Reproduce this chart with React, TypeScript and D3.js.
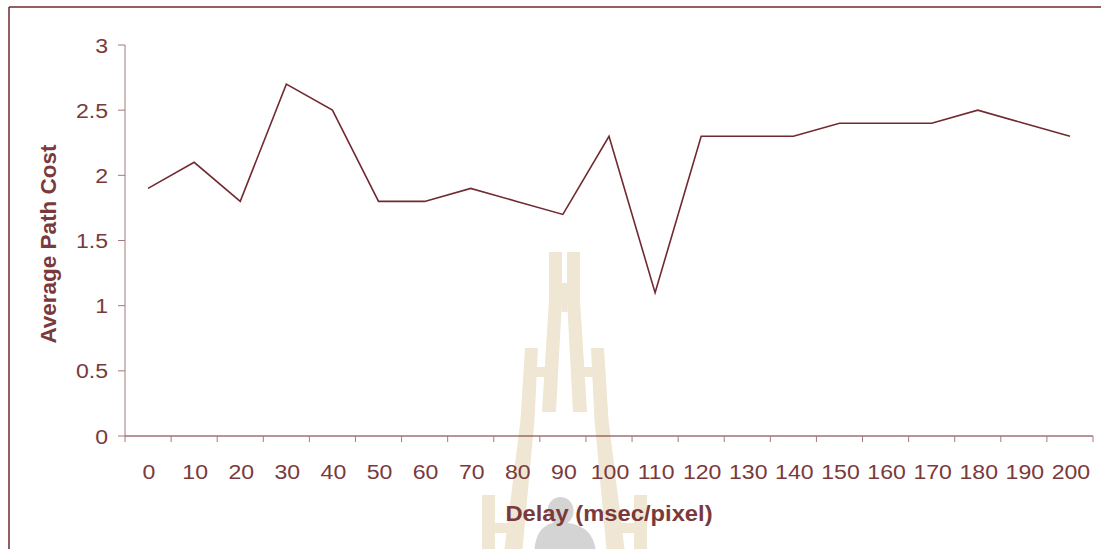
import React from "react";
import * as d3 from "d3";

const categories: string[] = ["0","10","20","30","40","50","60","70","80","90","100","110","120","130","140","150","160","170","180","190","200"];
const avgPathCost: number[] = [1.9,2.1,1.8,2.7,2.5,1.8,1.8,1.9,1.8,1.7,2.3,1.1,2.3,2.3,2.3,2.4,2.4,2.4,2.5,2.4,2.3];
const yTicks: number[] = [0,0.5,1,1.5,2,2.5,3];
const yTickLabels: string[] = ["0","0.5","1","1.5","2","2.5","3"];
const xTitle = "Delay (msec/pixel)";
const yTitle = "Average Path Cost";

const W = 1101, H = 549;
const M = { left: 125, right: 1093, top: 45, bottom: 436 };
const TEXT = "#7a3a3c";
const LINE = "#702a30";
const AXIS = "#a27a7c";
const BEIGE = "#efe6d4";
const FONT = "'Liberation Sans', Arial, sans-serif";

function Watermark() {
  const cx = 564.5;
  const poly = (pts: [number, number][]) => pts.map(([x, y]) => `${cx + x},${y}`).join(" ");
  const mirror = (pts: [number, number][]) => pts.map(([x, y]) => [-x, y] as [number, number]);
  const centralBar: [number, number][] = [[-15.5, 252], [-2.5, 252], [-2.5, 300], [-8.5, 412], [-22.5, 412], [-15.5, 300]];
  const sideBar: [number, number][] = [[-39.5, 348], [-26.5, 348], [-30, 420], [-42, 549], [-60, 549], [-44, 420]];
  const cross: [number, number][] = [[-28, 367], [-16, 367], [-16, 377], [-28.5, 377]];
  const outer: [number, number][] = [[-82.5, 495], [-69.5, 495], [-69.5, 549], [-82.5, 549]];
  const outerCross: [number, number][] = [[-70, 523], [-47, 523], [-48, 533], [-70, 533]];
  const junction: [number, number][] = [[-3, 283], [3, 283], [3, 312], [-3, 312]];
  const shapes = [centralBar, sideBar, cross, outer, outerCross];
  return (
    <g>
      {shapes.map((s, i) => (
        <g key={i}>
          <polygon points={poly(s)} fill={BEIGE} />
          <polygon points={poly(mirror(s))} fill={BEIGE} />
        </g>
      ))}
      <polygon points={poly(junction)} fill={BEIGE} />
      <ellipse cx={cx - 4} cy={511} rx={13} ry={14} fill="#d4d4d4" />
      <path d={`M${cx - 30},549 Q${cx - 28},527 ${cx - 12},523 L${cx + 4},523 Q${cx + 28},527 ${cx + 31},549 Z`} fill="#d4d4d4" />
    </g>
  );
}

export default function App() {
  const x = d3.scaleBand<string>().domain(categories).range([M.left, M.right]);
  const y = d3.scaleLinear().domain([0, 3]).range([M.bottom, M.top]);
  const line = d3.line<number>()
    .x((_, i) => (x(categories[i]) as number) + x.bandwidth() / 2)
    .y((d) => y(d));
  const boundaries = categories.map((c) => x(c) as number).concat([M.right]);

  return (
    <svg width={W} height={H} style={{ position: "absolute", left: 0, top: 0, background: "#fff" }} fontFamily={FONT}>
      <rect x={0} y={0} width={W} height={H} fill="#fff" />
      <Watermark />
      {/* frame */}
      <line x1={9} y1={7} x2={W} y2={7} stroke={LINE} strokeWidth={1.5} />
      <line x1={9} y1={7} x2={9} y2={H} stroke={LINE} strokeWidth={1.5} />
      {/* y axis */}
      <line x1={M.left} y1={M.top} x2={M.left} y2={M.bottom} stroke={AXIS} strokeWidth={1} />
      {yTicks.map((t, i) => (
        <g key={t}>
          <line x1={M.left - 7} x2={M.left} y1={y(t)} y2={y(t)} stroke={AXIS} strokeWidth={1} />
          <g transform={`translate(${M.left - 17},${y(t) + 7.5}) scale(1.1,1)`}>
            <text textAnchor="end" fontSize={21} fill={TEXT}>{yTickLabels[i]}</text>
          </g>
        </g>
      ))}
      {/* x axis */}
      <line x1={M.left} y1={M.bottom} x2={M.right} y2={M.bottom} stroke={LINE} strokeWidth={1.2} />
      {boundaries.map((b, i) => (
        <line key={i} x1={b} x2={b} y1={M.bottom} y2={M.bottom + 6} stroke={AXIS} strokeWidth={1} />
      ))}
      {categories.map((c) => (
        <g key={c} transform={`translate(${(x(c) as number) + x.bandwidth() / 2 + 1},${479}) scale(1.1,1)`}>
          <text textAnchor="middle" fontSize={21} fill={TEXT}>{c}</text>
        </g>
      ))}
      {/* data line */}
      <path d={line(avgPathCost) as string} fill="none" stroke={LINE} strokeWidth={1.6} />
      {/* titles */}
      <g transform={`translate(609,521) scale(1.08,1)`}>
        <text textAnchor="middle" fontSize={22} fontWeight="bold" fill={TEXT}>{xTitle}</text>
      </g>
      <text transform={`translate(56,244) rotate(-90)`} textAnchor="middle" fontSize={22.5} fontWeight="bold" fill={TEXT}>{yTitle}</text>
    </svg>
  );
}
